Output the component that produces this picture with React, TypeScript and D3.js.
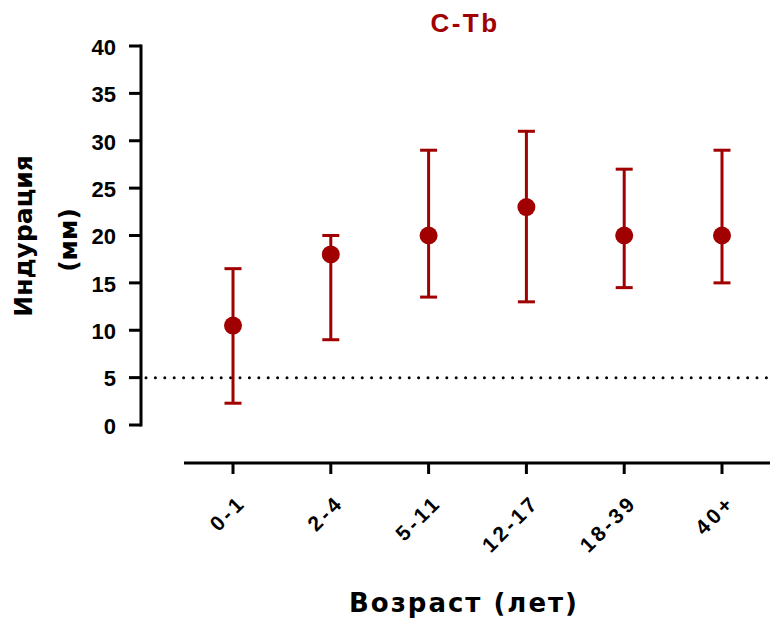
import React from "react";
import * as d3 from "d3";

const categories = ["0-1", "2-4", "5-11", "12-17", "18-39", "40+"];
const means = [10.5, 18, 20, 23, 20, 20];
const lows = [2.3, 9, 13.5, 13, 14.5, 15];
const highs = [16.5, 20, 29, 31, 27, 29];
const yTicks = [0, 5, 10, 15, 20, 25, 30, 35, 40];
const threshold = 5;

const RED = "#A00000";
const FONT = "'Liberation Sans', Arial, sans-serif";
const WIDE = "'DejaVu Sans', Verdana, sans-serif";

export default function App() {
  const W = 770, H = 619;
  const y = d3.scaleLinear().domain([0, 40]).range([425, 46]);
  const x = d3.scalePoint<string>().domain(categories).range([233, 722]);
  const axisX = 141;
  const xAxisY = 463;

  return (
    <svg width={W} height={H} style={{ position: "absolute", left: 0, top: 0, background: "#fff" }} fontFamily={FONT}>
      {/* title */}
      <text x={465} y={32} textAnchor="middle" fontSize={26} fontWeight="bold" letterSpacing={2.5} fill={RED}>C-Tb</text>

      {/* y axis */}
      <line x1={axisX} x2={axisX} y1={y(40) - 1.5} y2={y(0) + 1.5} stroke="#000" strokeWidth={3} />
      {yTicks.map((t) => (
        <g key={t}>
          <line x1={axisX - 12} x2={axisX} y1={y(t)} y2={y(t)} stroke="#000" strokeWidth={3} />
          <text x={116} y={y(t)} dy="0.4em" textAnchor="end" fontSize={22} fontWeight="bold" fill="#000">{t}</text>
        </g>
      ))}

      {/* y label */}
      <g transform={`translate(32,236) rotate(-90)`} fontFamily={WIDE}>
        <text x={0} y={0} textAnchor="middle" fontSize={25} fontWeight="bold" fill="#000">Индурация</text>
        <text x={-4} y={45} textAnchor="middle" fontSize={25} fontWeight="bold" fill="#000">(мм)</text>
      </g>

      {/* threshold dotted line */}
      <line x1={146} x2={770} y1={y(threshold)} y2={y(threshold)} stroke="#000" strokeWidth={3} strokeDasharray="0 9.4" strokeLinecap="round" />

      {/* x axis */}
      <line x1={184} x2={770} y1={xAxisY} y2={xAxisY} stroke="#000" strokeWidth={3} />
      {categories.map((c) => (
        <g key={c}>
          <line x1={x(c)} x2={x(c)} y1={xAxisY} y2={xAxisY + 11} stroke="#000" strokeWidth={3} />
          <text
            transform={`translate(${(x(c) as number) + 14},${xAxisY + 41}) rotate(-45)`}
            textAnchor="end"
            fontSize={21}
            fontWeight="bold"
            letterSpacing={3.3}
            fill="#000"
          >
            {c}
          </text>
        </g>
      ))}

      {/* x label */}
      <text x={464} y={612} textAnchor="middle" fontFamily={WIDE} fontSize={26} fontWeight="bold" letterSpacing={2} fill="#000">Возраст (лет)</text>

      {/* error bars */}
      {categories.map((c, i) => {
        const cx = x(c) as number;
        return (
          <g key={c} stroke={RED} strokeWidth={3}>
            <line x1={cx} x2={cx} y1={y(highs[i])} y2={y(lows[i])} />
            <line x1={cx - 8.5} x2={cx + 8.5} y1={y(highs[i])} y2={y(highs[i])} />
            <line x1={cx - 8.5} x2={cx + 8.5} y1={y(lows[i])} y2={y(lows[i])} />
            <circle cx={cx} cy={y(means[i])} r={9} fill={RED} stroke="none" />
          </g>
        );
      })}
    </svg>
  );
}
